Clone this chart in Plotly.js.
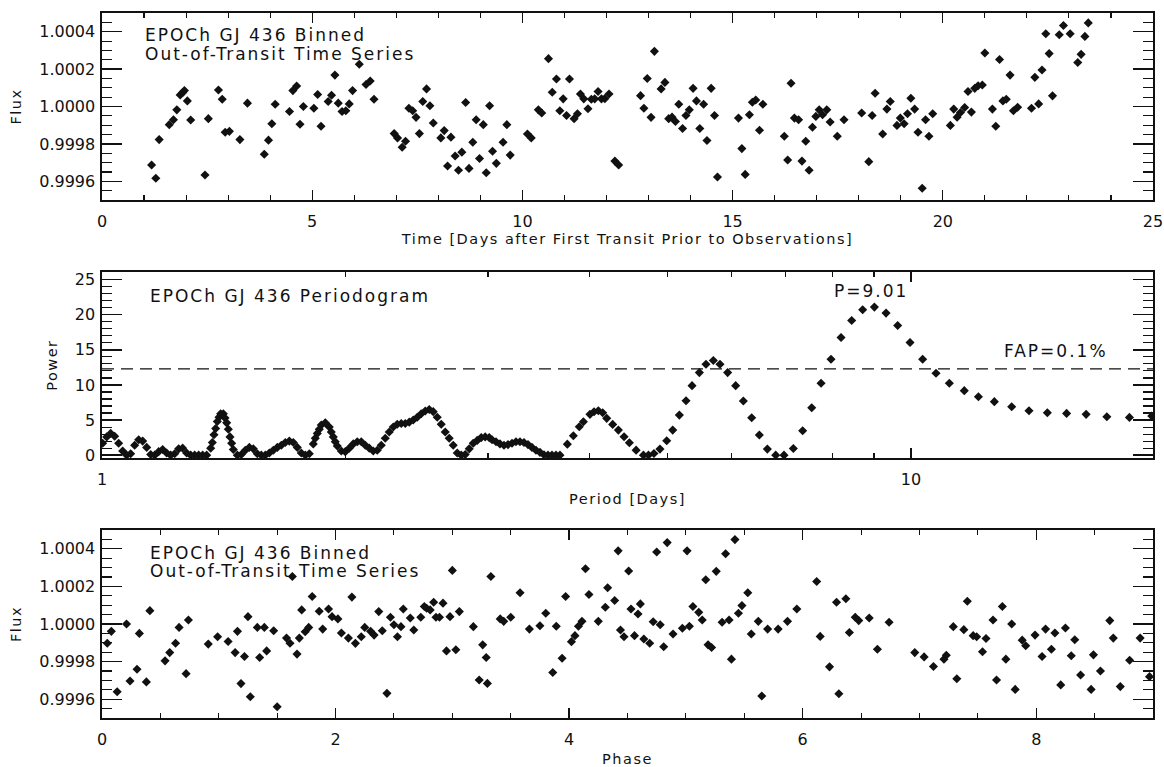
<!DOCTYPE html>
<html>
<head>
<meta charset="utf-8">
<script src="https://cdn.plot.ly/plotly-3.0.1.min.js"></script>
<style>
html,body{margin:0;padding:0;background:#fff;}
#chart{width:1164px;height:767px;}
.annotation-text{letter-spacing:2px;}
.xtitle,.x2title,.x3title,.ytitle,.y2title,.y3title{letter-spacing:1.5px;}
</style>
</head>
<body>
<div id="chart"></div>
<script>
// ---------- Panel 1: binned out-of-transit time series ----------
const timeDays = [1.18,1.28,1.36,1.60,1.70,1.78,1.86,1.92,1.96,2.03,2.11,2.45,2.53,2.77,2.86,2.93,3.03,3.28,3.46,3.86,3.96,4.04,4.12,4.46,4.54,4.63,4.71,4.79,5.04,5.13,5.21,5.38,5.46,5.54,5.62,5.71,5.80,5.88,5.96,6.12,6.28,6.38,6.47,6.95,7.03,7.14,7.22,7.30,7.39,7.47,7.55,7.63,7.72,7.80,7.88,8.06,8.14,8.22,8.30,8.40,8.48,8.56,8.65,8.73,8.82,8.90,8.98,9.07,9.14,9.22,9.29,9.38,9.54,9.63,9.71,10.12,10.21,10.38,10.46,10.62,10.71,10.81,10.89,10.97,11.05,11.12,11.23,11.31,11.38,11.46,11.56,11.64,11.72,11.80,11.88,11.96,12.06,12.20,12.29,12.81,12.89,12.97,13.06,13.14,13.30,13.39,13.48,13.56,13.64,13.72,13.81,13.89,13.97,14.06,14.14,14.22,14.31,14.39,14.49,14.57,14.64,15.14,15.22,15.30,15.40,15.47,15.55,15.64,15.72,16.23,16.31,16.39,16.47,16.57,16.65,16.74,16.82,16.90,16.98,17.06,17.14,17.24,17.32,17.49,17.65,18.07,18.24,18.32,18.39,18.57,18.67,18.75,18.91,18.99,19.08,19.16,19.24,19.33,19.41,19.51,19.59,19.67,19.76,20.18,20.26,20.34,20.42,20.52,20.60,20.68,20.76,20.84,20.94,21.00,21.18,21.26,21.35,21.43,21.51,21.60,21.68,21.78,22.11,22.19,22.28,22.36,22.45,22.53,22.61,22.77,22.87,23.03,23.21,23.29,23.38,23.46];
const fluxTime = [0.999687,0.999616,0.999823,0.999903,0.999929,0.999982,1.000062,1.000075,1.000085,1.000030,0.999928,0.999634,0.999935,1.000088,1.000039,0.999862,0.999867,0.999823,1.000018,0.999745,0.999820,0.999908,1.000012,0.999973,1.000085,1.000110,0.999905,1.000000,0.999991,1.000064,0.999894,1.000027,1.000060,1.000168,1.000018,0.999973,0.999977,1.000014,1.000085,1.000226,1.000118,1.000136,1.000039,0.999855,0.999832,0.999782,0.999814,0.999991,0.999977,0.999942,0.999855,1.000027,1.000094,1.000004,0.999912,0.999832,0.999871,0.999682,0.999836,0.999735,0.999659,0.999756,1.000021,0.999669,0.999809,0.999929,0.999722,0.999903,0.999646,1.000004,0.999761,0.999696,0.999809,0.999903,0.999740,0.999853,0.999832,0.999982,0.999965,1.000256,1.000076,1.000147,0.999977,1.000041,0.999952,1.000147,0.999935,0.999961,1.000067,1.000041,0.999988,1.000039,1.000041,1.000080,1.000041,1.000042,1.000067,0.999708,0.999687,1.000058,0.999991,1.000150,0.999942,1.000295,1.000094,1.000129,0.999935,0.999943,0.999920,1.000012,0.999882,0.999952,0.999982,1.000097,1.000030,0.999882,1.000012,0.999818,1.000097,0.999952,0.999623,0.999938,0.999775,0.999637,0.999956,1.000023,1.000035,0.999873,1.000012,0.999841,0.999714,1.000124,0.999938,0.999929,0.999708,0.999814,0.999659,0.999889,0.999947,0.999982,0.999956,0.999982,0.999917,0.999841,0.999929,0.999965,0.999705,0.999952,1.000071,0.999853,0.999986,1.000027,0.999899,0.999938,0.999908,0.999961,1.000044,0.999986,0.999862,0.999563,0.999929,0.999841,0.999961,0.999899,0.999986,0.999943,0.999968,0.999995,1.000080,0.999970,1.000097,1.000111,1.000115,1.000286,0.999986,0.999894,1.000251,1.000030,1.000039,1.000168,0.999977,0.999996,0.999991,1.000156,1.000014,1.000195,1.000389,1.000283,1.000057,1.000384,1.000433,1.000389,1.000235,1.000279,1.000375,1.000447];

// ---------- Panel 2: periodogram ----------
const periodDays = [1.0019,1.0134,1.0250,1.0367,1.0486,1.0606,1.0727,1.0850,1.0974,1.1100,1.1227,1.1356,1.1486,1.1617,1.1750,1.1885,1.2021,1.2159,1.2298,1.2439,1.2581,1.2725,1.2871,1.3018,1.3167,1.3318,1.3470,1.3625,1.3690,1.3754,1.3820,1.3885,1.3951,1.4017,1.4124,1.4192,1.4259,1.4327,1.4395,1.4463,1.4532,1.4698,1.4867,1.5037,1.5209,1.5383,1.5559,1.5737,1.5917,1.6099,1.6283,1.6470,1.6658,1.6849,1.7042,1.7237,1.7434,1.7634,1.7835,1.8040,1.8246,1.8350,1.8455,1.8561,1.8666,1.8880,1.9096,1.9205,1.9314,1.9424,1.9535,1.9759,1.9985,2.0214,2.0445,2.0679,2.0916,2.1155,2.1397,2.1642,2.1890,2.2140,2.2394,2.2650,2.2909,2.3171,2.3437,2.3705,2.3976,2.4251,2.4528,2.4809,2.5093,2.5380,2.5670,2.5964,2.6261,2.6562,2.6866,2.7173,2.7484,2.7799,2.8117,2.8439,2.8764,2.9094,2.9427,2.9763,3.0104,3.0343,3.0690,3.1041,3.1396,3.1756,3.2119,3.2487,3.2859,3.3235,3.3616,3.4000,3.4389,3.4783,3.5181,3.5584,3.5991,3.6403,3.682,3.760,3.825,3.890,3.936,4.010,4.057,4.107,4.158,4.206,4.278,4.348,4.419,4.486,4.573,4.669,4.736,4.811,4.894,4.989,5.075,5.172,5.271,5.362,5.475,5.579,5.697,5.806,5.934,6.071,6.205,6.354,6.494,6.644,6.804,6.966,7.154,7.346,7.538,7.741,7.964,8.194,8.446,8.714,9.010,9.314,9.627,9.972,10.337,10.737,11.152,11.637,12.115,12.677,13.318,13.990,14.74,15.57,16.46,17.46,18.62,19.84];
const powerVals = [1.7,2.6,3.1,2.7,1.7,0.6,0.0,0.2,1.4,2.2,2.0,1.1,0.1,0.0,0.5,0.8,0.3,0.0,0.2,0.9,1.0,0.3,0.0,0.0,0.0,0.0,0.0,1.0,1.8,2.9,3.8,4.8,5.4,5.9,5.9,5.3,4.6,3.7,2.6,1.7,0.8,0.0,0.1,0.7,1.1,0.9,0.2,0.0,0.0,0.3,0.7,1.1,1.4,1.8,2.0,1.8,1.1,0.3,0.0,0.2,1.6,2.4,3.1,3.7,4.3,4.6,4.0,3.3,2.6,1.9,1.3,0.6,0.5,1.0,1.6,1.9,1.9,1.4,1.0,0.6,0.7,1.4,2.4,3.3,4.0,4.4,4.5,4.5,4.7,5.0,5.4,5.9,6.3,6.5,6.2,5.4,4.4,3.3,2.4,1.4,0.3,0.0,0.1,0.9,1.7,2.1,2.5,2.6,2.5,2.2,1.9,1.6,1.4,1.5,1.7,1.9,1.9,1.8,1.5,1.1,0.7,0.4,0.05,0.0,0.0,0.0,0.0,1.57,2.76,4.05,4.76,5.81,6.19,6.33,6.05,5.24,4.38,3.57,2.62,1.76,0.71,0.0,0.0,0.24,0.86,2.05,3.57,5.71,7.76,9.90,11.76,12.95,13.48,12.95,11.76,9.90,7.71,5.33,2.86,0.86,0.0,0.0,0.95,3.48,6.76,10.24,13.67,16.76,19.19,20.71,21.10,20.24,18.48,16.05,13.67,11.67,10.24,9.19,8.33,7.62,6.90,6.33,6.05,5.95,5.81,5.48,5.38,5.57];
const fapLevel = 12.3;
const fapSpan = [1, 20];

// ---------- Panel 3: phase-folded series ----------
const phaseVals = [0.045,0.08,0.13,0.21,0.24,0.30,0.32,0.38,0.41,0.54,0.58,0.63,0.66,0.72,0.74,0.91,0.99,1.08,1.14,1.16,1.19,1.22,1.25,1.27,1.33,1.35,1.39,1.41,1.47,1.50,1.58,1.61,1.63,1.67,1.69,1.71,1.74,1.77,1.80,1.86,1.89,1.94,1.97,2.02,2.05,2.11,2.14,2.17,2.22,2.25,2.30,2.33,2.37,2.40,2.44,2.47,2.50,2.53,2.56,2.58,2.64,2.67,2.73,2.76,2.78,2.81,2.84,2.86,2.89,2.92,2.95,2.98,3.00,3.03,3.06,3.18,3.23,3.26,3.29,3.30,3.33,3.41,3.44,3.50,3.58,3.66,3.75,3.80,3.86,3.89,3.94,3.97,4.02,4.05,4.08,4.11,4.14,4.17,4.25,4.31,4.33,4.39,4.42,4.44,4.47,4.51,4.53,4.56,4.59,4.61,4.64,4.69,4.72,4.75,4.78,4.81,4.84,4.89,4.97,5.01,5.03,5.06,5.11,5.14,5.17,5.19,5.22,5.26,5.31,5.34,5.37,5.39,5.42,5.45,5.48,5.53,5.56,5.62,5.65,5.70,5.79,5.87,5.95,6.12,6.15,6.23,6.29,6.31,6.37,6.40,6.45,6.48,6.57,6.64,6.74,6.96,7.04,7.12,7.21,7.23,7.29,7.32,7.38,7.41,7.46,7.49,7.54,7.57,7.63,7.66,7.71,7.74,7.79,7.82,7.88,7.91,7.99,8.05,8.08,8.13,8.16,8.21,8.25,8.30,8.33,8.38,8.47,8.49,8.55,8.63,8.66,8.72,8.80,8.89,8.97];
const fluxPhase = [0.999898,0.999961,0.999640,1.000000,0.999697,0.999759,0.999950,0.999692,1.000071,0.999804,0.999848,0.999898,0.999982,0.999736,1.000021,0.999893,0.999932,0.999907,0.999848,0.999961,0.999683,0.999827,1.000039,0.999613,0.999982,0.999822,0.999982,0.999857,0.999964,0.999560,0.999925,0.999898,1.000253,0.999840,0.999925,1.000075,0.999959,0.999982,1.000146,1.000068,0.999973,1.000080,1.000039,1.000027,0.999952,0.999925,1.000143,0.999897,0.999932,0.999982,0.999961,0.999941,1.000066,0.999964,0.999631,1.000036,0.999996,0.999932,0.999986,1.000080,1.000032,0.999968,1.000036,1.000093,1.000084,1.000075,1.000116,1.000036,1.000036,1.000111,0.999857,1.000039,1.000285,0.999863,1.000066,0.999986,0.999702,0.999889,0.999822,0.999684,1.000253,1.000027,1.000014,1.000036,1.000166,0.999973,0.999991,1.000057,0.999742,0.999988,0.999818,1.000146,0.999906,0.999938,0.999988,1.000014,1.000294,1.000157,1.000014,1.000089,1.000193,1.000125,1.000389,0.999968,0.999932,1.000282,1.000080,0.999938,1.000053,1.000107,0.999920,0.999898,1.000012,1.000383,0.999996,0.999879,1.000433,0.999947,0.999977,1.000389,0.999988,1.000093,1.000062,1.000021,1.000235,0.999889,0.999875,1.000280,1.000009,1.000374,1.000021,0.999813,1.000449,1.000057,1.000098,1.000166,0.999947,1.000014,0.999617,0.999973,0.999973,1.000014,1.000080,1.000226,0.999934,0.999772,1.000116,0.999629,1.000134,0.999955,1.000036,1.000018,1.000032,0.999866,1.000009,0.999848,0.999825,0.999774,0.999813,0.999834,0.999986,0.999709,0.999970,1.000121,0.999938,0.999932,0.999852,0.999923,1.000021,0.999702,1.000093,0.999813,1.000000,0.999652,0.999914,0.999884,0.999941,0.999827,0.999973,0.999866,0.999952,0.999676,0.999979,0.999831,0.999916,0.999729,0.999652,0.999836,0.999750,1.000018,0.999925,0.999667,0.999807,0.999925,0.999720];

// ---------- text ----------
const panelLabel1 = ['EPOCh GJ 436 Binned', 'Out-of-Transit Time Series'];
const panelLabel2 = 'EPOCh GJ 436 Periodogram';
const peakLabel = 'P=9.01';
const fapLabel = 'FAP=0.1%';
const xTitles = ['Time [Days after First Transit Prior to Observations]', 'Period [Days]', 'Phase'];
const yTitles = ['Flux', 'Power', 'Flux'];

// ---------- build ----------
const FONT = 'DejaVu Sans, sans-serif';
const INK = '#111111';
const mk = {symbol:'diamond', size:7, color:INK, line:{width:0}};

const traces = [
  {x:timeDays, y:fluxTime, mode:'markers', type:'scatter', marker:mk, xaxis:'x', yaxis:'y', hoverinfo:'x+y'},
  {x:fapSpan, y:[fapLevel, fapLevel], mode:'lines', type:'scatter', line:{color:INK, width:1.4, dash:'12px,7px'}, xaxis:'x2', yaxis:'y2', hoverinfo:'skip'},
  {x:periodDays, y:powerVals, mode:'markers', type:'scatter', marker:mk, xaxis:'x2', yaxis:'y2', hoverinfo:'x+y'},
  {x:phaseVals, y:fluxPhase, mode:'markers', type:'scatter', marker:mk, xaxis:'x3', yaxis:'y3', hoverinfo:'x+y'}
];

const base = {
  showline:true, linecolor:INK, linewidth:1.6, mirror:'ticks',
  ticks:'inside', tickcolor:INK, tickwidth:1.3,
  showgrid:false, zeroline:false,
  tickfont:{family:FONT, size:16, color:INK}
};
function xa(extra){ return Object.assign({}, base, {ticklen:10, ticklabelstandoff:6}, extra); }
function ya(extra){ return Object.assign({}, base, {ticklen:20, ticklabelstandoff:2}, extra); }
const titleFont = {family:FONT, size:14.5, color:INK};

// margins: plot area x 102..1153, y 13..718
const W = 1164, H = 767, ML = 102, MR = 11, MT = 13, MB = 49;
const PW = W - ML - MR, PH = H - MT - MB;
const px2x = p => (p - ML) / PW;
const py2y = p => (H - MB - p) / PH;

const annFont = {family:FONT, size:17, color:INK};
function ann(text, px, py){
  return {text:text, xref:'paper', yref:'paper', x:px2x(px), y:py2y(py), xanchor:'left', yanchor:'middle', showarrow:false, font:annFont, borderpad:0};
}

const layout = {
  width:W, height:H,
  margin:{l:ML, r:MR, t:MT, b:MB, pad:0},
  paper_bgcolor:'#ffffff', plot_bgcolor:'#ffffff',
  showlegend:false,
  font:{family:FONT, color:INK},
  xaxis: xa({anchor:'y', domain:[0,1], range:[0,25], dtick:5, tick0:0,
    minor:{ticks:'inside', ticklen:5, dtick:1, tickcolor:INK, tickwidth:1.1, showgrid:false},
    title:{text:xTitles[0], font:titleFont, standoff:2}}),
  yaxis: ya({anchor:'x', domain:[py2y(200), 1], range:[0.99950, 1.00050], dtick:0.0002, tick0:0.9996, tickformat:'.4f',
    minor:{ticks:'inside', ticklen:10, dtick:0.00005, tickcolor:INK, tickwidth:1.1, showgrid:false},
    title:{text:yTitles[0], font:titleFont, standoff:14}}),
  xaxis2: xa({anchor:'y2', domain:[0,1], type:'log', range:[0, 1.2991], tickmode:'array', tickvals:[1,10], ticktext:['1','10'],
    minor:{ticks:'inside', ticklen:5, tickmode:'array', tickvals:[2,3,4,5,6,7,8,9,20], tickcolor:INK, tickwidth:1.1, showgrid:false},
    title:{text:xTitles[1], font:titleFont, standoff:6}}),
  yaxis2: ya({anchor:'x2', domain:[py2y(458.3), py2y(272)], range:[-0.45, 26.1], dtick:5, tick0:0,
    minor:{ticks:'inside', ticklen:10, dtick:1, tickcolor:INK, tickwidth:1.1, showgrid:false},
    title:{text:yTitles[1], font:titleFont, standoff:14}}),
  xaxis3: xa({anchor:'y3', domain:[0,1], range:[0,9], dtick:2, tick0:0,
    minor:{ticks:'inside', ticklen:5, dtick:0.5, tickcolor:INK, tickwidth:1.1, showgrid:false},
    title:{text:xTitles[2], font:titleFont, standoff:6}}),
  yaxis3: ya({anchor:'x3', domain:[0, py2y(530)], range:[0.99950, 1.00050], dtick:0.0002, tick0:0.9996, tickformat:'.4f',
    minor:{ticks:'inside', ticklen:10, dtick:0.00005, tickcolor:INK, tickwidth:1.1, showgrid:false},
    title:{text:yTitles[2], font:titleFont, standoff:14}}),
  annotations:[
    ann(panelLabel1[0], 144, 35),
    ann(panelLabel1[1], 144, 54),
    ann(panelLabel2, 149, 296),
    ann(peakLabel, 833, 291),
    ann(fapLabel, 1003, 351),
    ann(panelLabel1[0], 149, 553),
    ann(panelLabel1[1], 149, 571)
  ]
};

Plotly.newPlot('chart', traces, layout, {displayModeBar:false, staticPlot:true});
</script>
</body>
</html>
